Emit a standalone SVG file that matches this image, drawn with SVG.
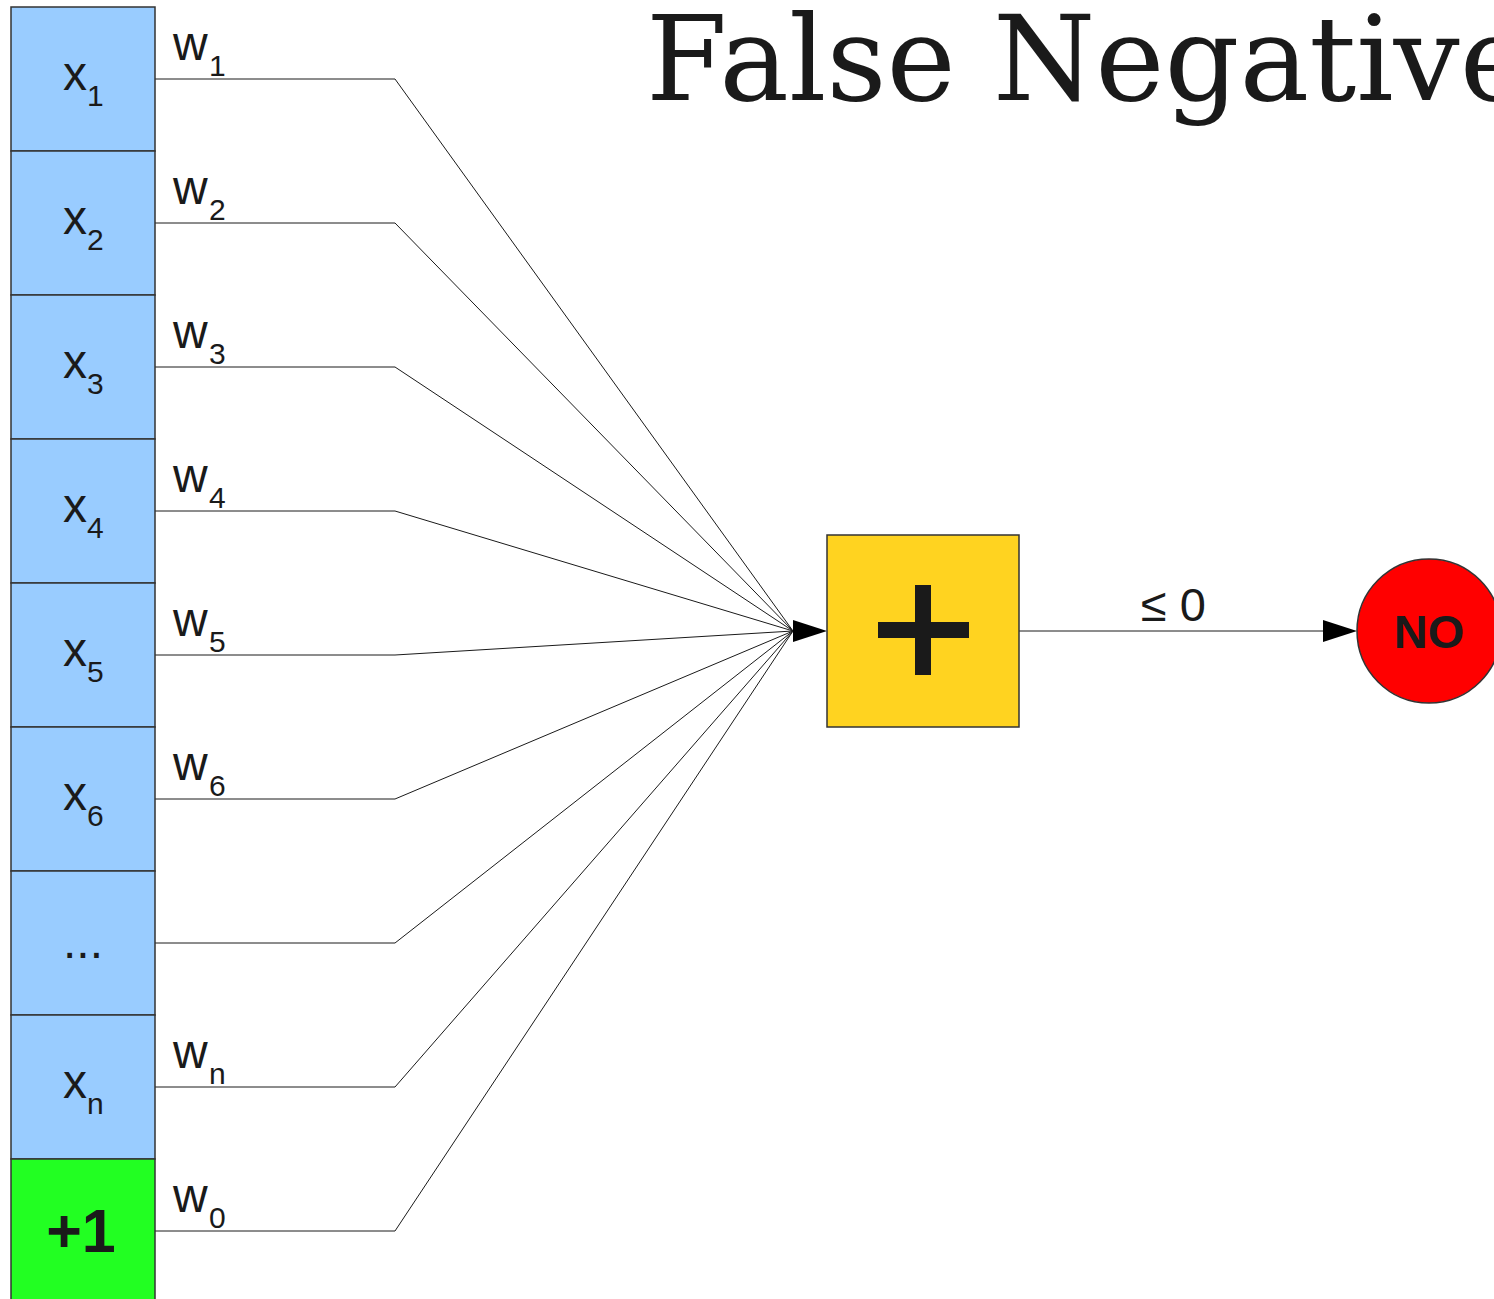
<svg xmlns="http://www.w3.org/2000/svg" width="1494" height="1299" viewBox="0 0 1494 1299">
<style>
.in{fill:#99ccff;stroke:#333;stroke-width:1.5}
.bias{fill:#22ff22;stroke:#333;stroke-width:1.5}
.t{font-family:"Liberation Sans",Arial,sans-serif;fill:#1a1a1a}
.lab{font-size:48px}
.sub{font-size:30px}
.ln{fill:none;stroke:#1a1a1a;stroke-width:1}
</style>
<rect width="1494" height="1299" fill="#fff"/>
<text id="title" x="646" y="100" style="font-family:'DejaVu Serif',serif;font-size:117px;fill:#1a1a1a">False Negative</text>
<g id="connectors">
<path class="ln" d="M155,79H395L793,631"/>
<path class="ln" d="M155,223H395L793,631"/>
<path class="ln" d="M155,367H395L793,631"/>
<path class="ln" d="M155,511H395L793,631"/>
<path class="ln" d="M155,655H395L793,631"/>
<path class="ln" d="M155,799H395L793,631"/>
<path class="ln" d="M155,943H395L793,631"/>
<path class="ln" d="M155,1087H395L793,631"/>
<path class="ln" d="M155,1231H395L793,631"/>
<polygon points="793,620 827,631 793,642" fill="#000"/>
<path class="ln" d="M1019,631H1323"/>
<polygon points="1323,620 1357,631 1323,642" fill="#000"/>
<text class="t" x="1141" y="621" style="font-size:47px">≤ 0</text>
</g>
<g id="x1"><rect class="in" x="11" y="7" width="144" height="144"/><text class="t lab" x="63" y="90">x</text><text class="t sub" x="87" y="106">1</text></g>
<g id="x2"><rect class="in" x="11" y="151" width="144" height="144"/><text class="t lab" x="63" y="234">x</text><text class="t sub" x="87" y="250">2</text></g>
<g id="x3"><rect class="in" x="11" y="295" width="144" height="144"/><text class="t lab" x="63" y="378">x</text><text class="t sub" x="87" y="394">3</text></g>
<g id="x4"><rect class="in" x="11" y="439" width="144" height="144"/><text class="t lab" x="63" y="522">x</text><text class="t sub" x="87" y="538">4</text></g>
<g id="x5"><rect class="in" x="11" y="583" width="144" height="144"/><text class="t lab" x="63" y="666">x</text><text class="t sub" x="87" y="682">5</text></g>
<g id="x6"><rect class="in" x="11" y="727" width="144" height="144"/><text class="t lab" x="63" y="810">x</text><text class="t sub" x="87" y="826">6</text></g>
<g id="xdots"><rect class="in" x="11" y="871" width="144" height="144"/><text class="t lab" x="83" y="958" text-anchor="middle">...</text></g>
<g id="xn"><rect class="in" x="11" y="1015" width="144" height="144"/><text class="t lab" x="63" y="1098">x</text><text class="t sub" x="87" y="1114">n</text></g>
<g id="bias"><rect class="bias" x="11" y="1159" width="144" height="150"/><text class="t" x="81" y="1252" text-anchor="middle" style="font-size:61px;font-weight:bold">+1</text></g>
<g id="weights">
<text class="t lab" x="173" y="60">w</text><text class="t sub" x="209" y="76">1</text>
<text class="t lab" x="173" y="204">w</text><text class="t sub" x="209" y="220">2</text>
<text class="t lab" x="173" y="348">w</text><text class="t sub" x="209" y="364">3</text>
<text class="t lab" x="173" y="492">w</text><text class="t sub" x="209" y="508">4</text>
<text class="t lab" x="173" y="636">w</text><text class="t sub" x="209" y="652">5</text>
<text class="t lab" x="173" y="780">w</text><text class="t sub" x="209" y="796">6</text>
<text class="t lab" x="173" y="1068">w</text><text class="t sub" x="209" y="1084">n</text>
<text class="t lab" x="173" y="1212">w</text><text class="t sub" x="209" y="1228">0</text>
</g>
<g id="sum">
<rect x="827" y="535" width="192" height="192" fill="#ffd320" stroke="#333" stroke-width="1.5"/>
<rect x="915" y="585" width="16" height="90" fill="#1a1a1a"/>
<rect x="878" y="622" width="91" height="16" fill="#1a1a1a"/>
</g>
<g id="no">
<circle cx="1429" cy="631" r="72" fill="#ff0000" stroke="#333" stroke-width="1.5"/>
<text class="t" x="1429" y="648" text-anchor="middle" style="font-size:47px;font-weight:bold">NO</text>
</g>
</svg>
